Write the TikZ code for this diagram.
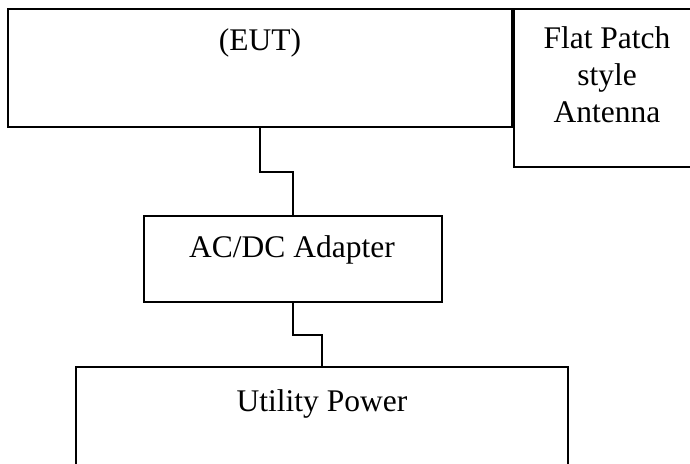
\documentclass[tikz,border=0pt]{standalone}
\usepackage{fontspec}
\setmainfont{Liberation Serif}
\begin{document}
\begin{tikzpicture}[x=1pt,y=-1pt,
  box/.style={draw=black,line width=2pt,rectangle,inner sep=0pt,fill=white},
  lbl/.style={font=\fontsize{31.5}{37}\selectfont,inner sep=0pt,anchor=base,align=center},
  wire/.style={draw=black,line width=2pt}]
\useasboundingbox (0,0) rectangle (690,463);
\clip (0,0) rectangle (690,463);
\node[box,minimum width=504pt,minimum height=118pt] (eut) at (260,68) {};
\node[box,minimum width=220pt,minimum height=158pt] (ant) at (624,88) {};
\node[box,minimum width=298pt,minimum height=86pt] (adp) at (293,259) {};
\node[box,minimum width=492pt,minimum height=200pt] (util) at (322,467) {};
\node[lbl] (teut) at (260,50) {(EUT)};
\node[lbl] (tant) at (607,122) {Flat Patch\\style\\Antenna};
\node[lbl] (tadp) at (292,257) {AC/DC Adapter};
\node[lbl] (tutil) at (322,411) {Utility Power};
\draw[wire] (eut.south) -- ++(0,44) -| (adp.north);
\draw[wire] (adp.south) -- ++(0,32) -| (util.north);
\end{tikzpicture}
\end{document}
